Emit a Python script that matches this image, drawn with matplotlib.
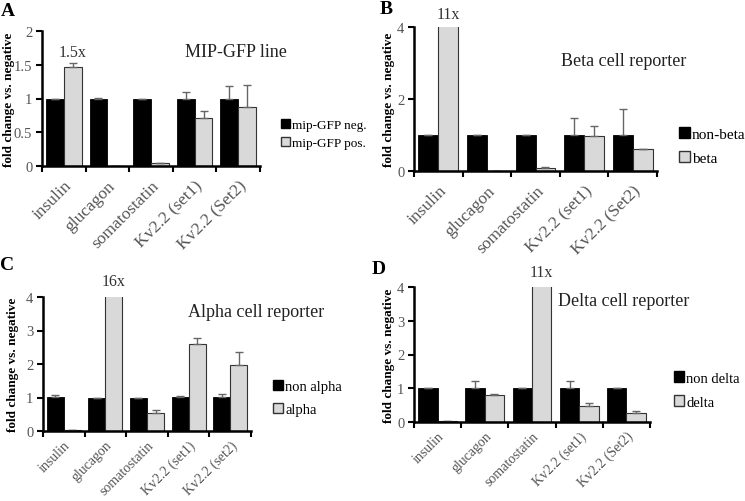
import matplotlib
matplotlib.use("Agg")
import matplotlib.pyplot as plt
from matplotlib.patches import Patch
from matplotlib.transforms import blended_transform_factory
import numpy as np

plt.rcParams['font.family'] = ['Liberation Serif', 'DejaVu Serif']

genes = ['insulin', 'glucagon', 'somatostatin', 'Kv2.2 (set1)', 'Kv2.2 (Set2)']
genes_c = ['insulin', 'glucagon', 'somatostatin', 'Kv2.2 (set1)', 'Kv2.2 (set2)']

# panel A - MIP-GFP line
a_neg = [1.0, 1.0, 1.0, 1.0, 1.0]
a_neg_err = [0.0, 0.01, 0.0, 0.09, 0.19]
a_pos = [1.46, 0.0, 0.04, 0.71, 0.88]
a_pos_err = [0.06, 0.0, 0.0, 0.11, 0.32]

# panel B - beta cell reporter
b_neg = [1.0, 1.0, 1.0, 1.0, 1.0]
b_neg_err = [0.0, 0.01, 0.01, 0.48, 0.72]
b_pos = [11.0, 0.0, 0.07, 0.98, 0.6]
b_pos_err = [0.0, 0.0, 0.03, 0.28, 0.02]

# panel C - alpha cell reporter
c_neg = [1.02, 1.0, 1.0, 1.02, 1.02]
c_neg_err = [0.05, 0.0, 0.0, 0.02, 0.07]
c_pos = [0.02, 16.0, 0.55, 2.61, 1.98]
c_pos_err = [0.0, 0.0, 0.07, 0.18, 0.37]

# panel D - delta cell reporter
d_neg = [1.0, 1.0, 1.0, 1.0, 1.0]
d_neg_err = [0.0, 0.22, 0.0, 0.22, 0.01]
d_pos = [0.02, 0.8, 11.0, 0.48, 0.28]
d_pos_err = [0.0, 0.04, 0.0, 0.08, 0.05]

panels = [
    # letter, labels, neg, neg_err, pos, pos_err, legend names, title, ymax, yticks, fold text
    ('A', genes, a_neg, a_neg_err, a_pos, a_pos_err, ['mip-GFP neg.', 'mip-GFP pos.'],
     'MIP-GFP line', 2, [0, 0.5, 1, 1.5, 2], '1.5x'),
    ('B', genes, b_neg, b_neg_err, b_pos, b_pos_err, ['non-beta', 'beta'],
     'Beta cell reporter', 4, [0, 2, 4], '11x'),
    ('C', genes_c, c_neg, c_neg_err, c_pos, c_pos_err, ['non alpha', 'alpha'],
     'Alpha cell reporter', 4, [0, 1, 2, 3, 4], '16x'),
    ('D', genes, d_neg, d_neg_err, d_pos, d_pos_err, ['non delta', 'delta'],
     'Delta cell reporter', 4, [0, 1, 2, 3, 4], '11x'),
]

W, H = 745, 502
# axes boxes in pixels: left, top, right, bottom
ax_px = [(42, 32, 260, 167), (414, 28, 657, 172), (43, 298, 251, 432), (414, 288, 650, 423)]
# x pixel of title centre, title y value, fold text y value
title_pos = [(236, 1.69, 1.69), (624, 3.06, 4.36), (256, 3.58, 4.48), (624, 3.59, 4.45)]
# legend left x, centre y, row spacing, font size
legend_px = [(281, 135, 0.45, 9.5), (679, 147, 0.7, 11), (273, 399, 0.7, 10.5), (674, 391, 0.75, 10.5)]
letter_px = [(8, 11), (386, 9), (7, 266), (379, 270)]
ylabel_x = [9, 389, 13, 389]       # pixel x of the y label centre
xlabel_size = [12.5, 12.5, 10, 10]

fig = plt.figure(figsize=(W / 100, H / 100), dpi=100)
gray = '#d9d9d9'
tickgray = '#555555'
bw = 0.41

for i, p in enumerate(panels):
    letter, labels, neg, neg_err, pos, pos_err, names, title, ymax, yticks, fold = p
    l, t, r, b = ax_px[i]
    ax = fig.add_axes([l / W, 1 - b / H, (r - l) / W, (b - t) / H])
    x = np.arange(len(labels))
    ax.bar(x - bw / 2, neg, bw, color='black', edgecolor='black', linewidth=0.6)
    ax.bar(x + bw / 2, pos, bw, color=gray, edgecolor='#333333', linewidth=0.8)
    # only upper error bars
    neg_arr = np.array(neg)
    pos_arr = np.array(pos)
    ax.errorbar(x - bw / 2, neg_arr, yerr=[np.zeros(5), neg_err], fmt='none',
                ecolor='#666666', elinewidth=1, capsize=3, capthick=1)
    ax.errorbar(x + bw / 2, pos_arr, yerr=[np.zeros(5), pos_err], fmt='none',
                ecolor='#666666', elinewidth=1, capsize=3, capthick=1)

    ax.set_xlim(-0.5, len(labels) - 0.5)
    ax.set_ylim(0, ymax)
    ax.set_yticks(yticks)
    ax.set_yticklabels([('%g' % v) for v in yticks], color=tickgray, fontsize=10.5)
    ax.set_xticks(x)
    ax.set_xticklabels(labels, rotation=45, ha='right', rotation_mode='anchor',
                       color=tickgray, fontsize=xlabel_size[i])
    ax.set_xticks(np.arange(-0.5, len(labels)), minor=True)
    ax.tick_params(axis='x', which='major', length=0, pad=8 if i < 2 else 5)
    ax.tick_params(axis='x', which='minor', length=4, width=1.5, direction='out')
    ax.tick_params(axis='y', length=4, width=1.5, direction='out', pad=3)
    for s in ['top', 'right']:
        ax.spines[s].set_visible(False)
    ax.spines['left'].set_linewidth(1.8)
    ax.spines['bottom'].set_linewidth(1.8)
    ax.set_ylabel('fold change vs. negative', fontsize=9.5, fontweight='bold', va='center')
    ax.yaxis.set_label_coords((ylabel_x[i] - l) / (r - l), 0.5)

    # title inside the plot
    tx, ty, fy = title_pos[i]
    ax.text(tx / W, ty, title, transform=blended_transform_factory(fig.transFigure, ax.transData),
            ha='center', va='center', fontsize=13, color='#222222', clip_on=False)
    # fold label over the clipped / highlighted bar
    big = int(np.argmax(pos_arr))
    ax.text(big + bw / 2, fy, fold, ha='center', va='center', fontsize=11.5,
            color='#333333', clip_on=False)

    lx, ly, sp, lfs = legend_px[i]
    handles = [Patch(facecolor='black', edgecolor='black'),
               Patch(facecolor=gray, edgecolor='#333333')]
    ax.legend(handles, names, loc='center left', bbox_to_anchor=(lx / W, 1 - ly / H),
              bbox_transform=fig.transFigure, frameon=False, fontsize=lfs,
              handlelength=0.7, handleheight=0.7, handletextpad=0.15, labelspacing=sp,
              borderpad=0, borderaxespad=0)

    fig.text(letter_px[i][0] / W, 1 - letter_px[i][1] / H, letter, ha='center', va='center',
             fontsize=14, fontweight='bold')

fig.savefig('out.png', dpi=100)
